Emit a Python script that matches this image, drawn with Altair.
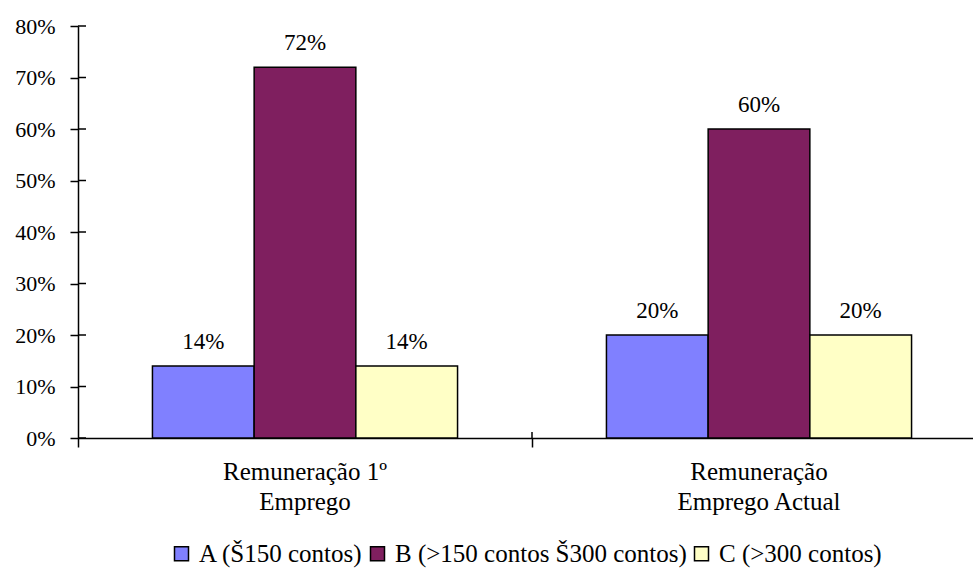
import altair as alt
import pandas as pd

categories = ["Remuneração 1º\nEmprego", "Remuneração\nEmprego Actual"]
series = ["A (Š150 contos)", "B (>150 contos Š300 contos)", "C (>300 contos)"]
values = {
    series[0]: [0.14, 0.20],
    series[1]: [0.72, 0.60],
    series[2]: [0.14, 0.20],
}
colors = ["#8080FF", "#7F1F5F", "#FFFFC6"]
y_ticks = [0.0, 0.1, 0.2, 0.3, 0.4, 0.5, 0.6, 0.7, 0.8]

rows = []
for s in series:
    for c, v in zip(categories, values[s]):
        rows.append({"cat": c, "series": s, "value": v})
df = pd.DataFrame(rows)
ticks_df = pd.DataFrame({"t": y_ticks})
bound_df = pd.DataFrame({"cat": [categories[1]]})

FONT = "Liberation Serif"

x_scale = alt.Scale(domain=categories, range=[0, 908], paddingInner=0, paddingOuter=0)
y_scale = alt.Scale(domain=[0, 0.8], nice=False)

x_enc = alt.X(
    "cat:N",
    scale=x_scale,
    sort=categories,
    axis=alt.Axis(
        title=None,
        bandPosition=0,
        labelAngle=0,
        labelExpr="split(datum.label, '\\n')",
        labelFontSize=25,
        labelLineHeight=30,
        labelBaseline="alphabetic",
        labelPadding=32,
        tickSize=9,
        tickWidth=1.5,
        domainWidth=1.5,
    ),
)
y_enc = alt.Y(
    "value:Q",
    scale=y_scale,
    axis=alt.Axis(
        title=None,
        values=y_ticks,
        format=".0%",
        grid=False,
        tickSize=8,
        tickWidth=1.5,
        domainWidth=1.5,
        labelPadding=15,
        labelFontSize=22,
    ),
)
xoff = alt.XOffset("series:N", sort=series, scale=alt.Scale(paddingInner=0, paddingOuter=0.732))

bars = alt.Chart(df).mark_bar(stroke="black", strokeWidth=1.5).encode(
    x=x_enc,
    xOffset=xoff,
    y=y_enc,
    color=alt.Color(
        "series:N",
        sort=series,
        scale=alt.Scale(domain=series, range=colors),
        legend=alt.Legend(
            title=None,
            orient="none",
            direction="horizontal",
            legendX=91,
            legendY=515,
            symbolType="square",
            symbolSize=196,
            symbolStrokeColor="black",
            symbolStrokeWidth=1.5,
            symbolOpacity=1,
            labelFontSize=25,
            labelFont=FONT,
            labelColor="black",
            columnPadding=2,
            labelOffset=5,
            labelLimit=500,
        ),
    ),
)

labels = alt.Chart(df).mark_text(
    baseline="alphabetic", dy=-17, fontSize=23, font=FONT, color="black"
).encode(
    x=alt.X("cat:N", scale=x_scale, sort=categories),
    xOffset=xoff,
    y=alt.Y("value:Q", scale=y_scale),
    text=alt.Text("value:Q", format=".0%"),
)

# inward halves of the cross-shaped ticks
y_inner = alt.Chart(ticks_df).mark_rule(color="black", strokeWidth=1.5).encode(
    y=alt.Y("t:Q", scale=y_scale),
    x=alt.value(0),
    x2=alt.value(8),
)
x_inner = alt.Chart(bound_df).mark_rule(color="black", strokeWidth=1.5).encode(
    x=alt.X("cat:N", scale=x_scale, sort=categories, bandPosition=0),
    y=alt.value(406),
    y2=alt.value(412),
)

chart = (
    alt.layer(bars, labels, y_inner, x_inner)
    .properties(
        width=895,
        height=412,
        autosize=alt.AutoSizeParams(type="none"),
        padding={"left": 78, "top": 26, "right": 0, "bottom": 135},
        background="white",
    )
    .configure_view(stroke=None)
    .configure_axis(
        labelFont=FONT,
        labelColor="black",
        domainColor="black",
        tickColor="black",
    )
)

chart.save("out.html", embed_options={"renderer": "svg", "actions": False})
